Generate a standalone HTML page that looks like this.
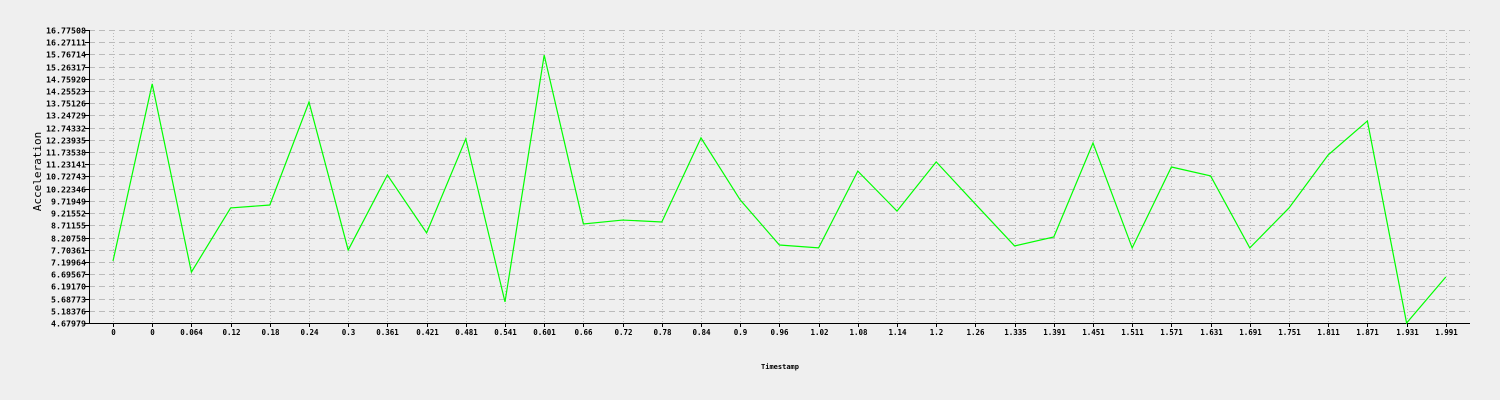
<!DOCTYPE html>
<html><head><meta charset="utf-8"><style>
body{margin:0;background:#efefef;}
svg{display:block;font-family:"DejaVu Sans Mono","Liberation Mono",monospace;}
</style></head><body>
<svg id="c" width="1500" height="400"></svg>
<script>
const categories=["0","0","0.064","0.12","0.18","0.24","0.3","0.361","0.421","0.481","0.541","0.601","0.66","0.72","0.78","0.84","0.9","0.96","1.02","1.08","1.14","1.2","1.26","1.335","1.391","1.451","1.511","1.571","1.631","1.691","1.751","1.811","1.871","1.931","1.991"];
const accel=[7.24,14.55,6.78,9.43,9.55,13.80,7.69,10.79,8.40,12.28,5.55,15.74,8.77,8.93,8.85,12.32,9.76,7.90,7.78,10.95,9.30,11.33,9.59,7.86,8.23,12.11,7.78,11.12,10.75,7.78,9.43,11.62,13.02,4.68,6.58];
const yMin=4.67979,yMax=16.77508,yTickCount=24;
const NS="http://www.w3.org/2000/svg",svg=document.getElementById('c');
const L=89,R=1470,T=30,B=323,X0=113,DX=39.2;
const x=i=>X0+i*DX, y=v=>B-(v-yMin)/(yMax-yMin)*(B-T);
function mk(t,a,p){const e=document.createElementNS(NS,t);for(const k in a)e.setAttribute(k,a[k]);(p||svg).appendChild(e);return e;}
const g=mk('g',{});


for(let k=0;k<=yTickCount;k++){const v=yMin+(yMax-yMin)*k/yTickCount,yy=Math.round(y(v))+0.5;
 if(k>0){const l=mk('line',{x1:L,x2:R,y1:yy,y2:yy,stroke:'#bbb','stroke-dasharray':'6,4'},g);}
 mk('line',{x1:L-4,x2:L,y1:yy,y2:yy,stroke:'#000'});
 const t=mk('text',{x:L-3,y:yy+3,'text-anchor':'end','font-size':'8.3','font-weight':'bold',fill:'#000'});t.textContent=v.toFixed(5);
 }
categories.forEach((c,i)=>{const xx=Math.round(x(i))+0.5;
 const l=mk('line',{x1:xx,x2:xx,y1:T+3,y2:B,stroke:'#bbb','stroke-dasharray':'1,2'},g);
 mk('line',{x1:xx,x2:xx,y1:B,y2:B+4,stroke:'#000'});
 const t=mk('text',{x:xx,y:B+12,'text-anchor':'middle','font-size':'7.5','font-weight':'bold',fill:'#000'});t.textContent=c;
 });
const ax=mk('path',{d:`M${L+0.5},${T} V${B+0.5} H${R}`,stroke:'#000',fill:'none'});

const line=mk('polyline',{points:accel.map((v,i)=>x(i)+','+y(v)).join(' '),fill:'none',stroke:'#00ff00','stroke-width':'1.2'});

const yt=mk('text',{x:0,y:0,transform:`translate(41,${(T+B)/2-5}) rotate(-90)`,'text-anchor':'middle','font-size':'11',fill:'#000'});yt.textContent='Acceleration';

const xt=mk('text',{x:780,y:369,'text-anchor':'middle','font-size':'7','font-weight':'bold',fill:'#000'});xt.textContent='Timestamp';

</script></body></html>
